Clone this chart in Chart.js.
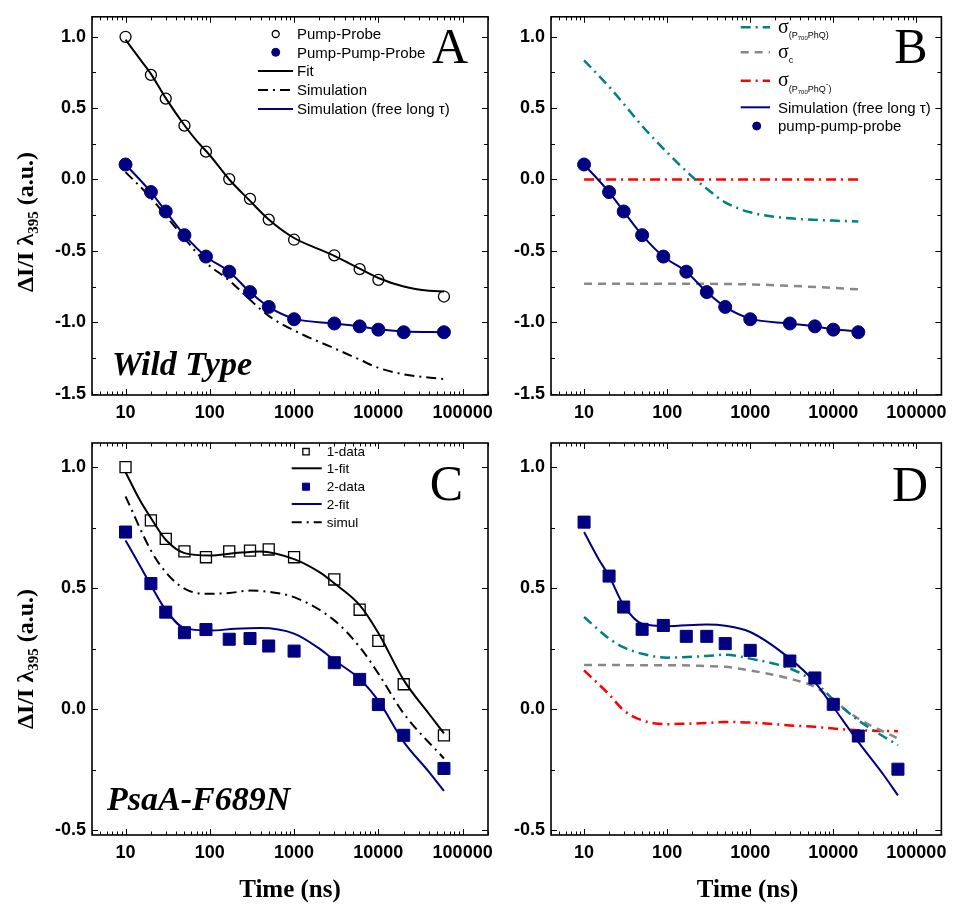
<!DOCTYPE html>
<html>
<head>
<meta charset="utf-8">
<script src="https://cdn.jsdelivr.net/npm/chart.js@4.4.0/dist/chart.umd.min.js"></script>
<style>
body{margin:0;background:#fff;width:954px;height:908px;position:relative;overflow:hidden}
canvas{position:absolute}
</style>
</head>
<body>
<canvas id="chartA" width="520" height="430" style="left:0;top:0"></canvas>
<canvas id="chartB" width="474" height="430" style="left:480px;top:0"></canvas>
<canvas id="chartC" width="520" height="488" style="left:0;top:420px"></canvas>
<canvas id="chartD" width="474" height="488" style="left:480px;top:420px"></canvas>
<script>
var SANS = '"Liberation Sans", Arial, sans-serif';
var SERIF = '"Liberation Serif", "Times New Roman", serif';
var NAVY = '#000080', TEAL = '#008080', GRAY = '#888888', RED = '#ff0000';

// tick labels
var xTicks = [10, 100, 1000, 10000, 100000];
var yTicksTop = [-1.5, -1.0, -0.5, 0.0, 0.5, 1.0];
var yTicksBottom = [-0.5, 0.0, 0.5, 1.0];

// panel A - wild type
var tPP = [10, 20, 30, 50, 90, 170, 300, 500, 1000, 3000, 6000, 10000, 60000];
var pumpProbe = [1.0, 0.733, 0.567, 0.377, 0.195, 0.003, -0.136, -0.281, -0.422, -0.531, -0.628, -0.703, -0.82];
var tPPP = [10, 20, 30, 50, 90, 170, 300, 500, 1000, 3000, 6000, 10000, 20000, 60000];
var pumpPumpProbe = [0.105, -0.088, -0.224, -0.39, -0.54, -0.646, -0.789, -0.893, -0.979, -1.009, -1.029, -1.052, -1.07, -1.07];
var tFitA = [10, 15, 20, 30, 50, 70, 100, 170, 300, 500, 1000, 2000, 3000, 6000, 10000, 20000, 40000, 60000];
var fitA = [0.98, 0.84, 0.74, 0.57, 0.38, 0.27, 0.17, 0.0, -0.15, -0.28, -0.41, -0.49, -0.535, -0.625, -0.69, -0.75, -0.78, -0.785];
var simA = [0.052, -0.129, -0.254, -0.412, -0.582, -0.707, -0.843, -0.956, -1.058, -1.183, -1.262, -1.32, -1.365, -1.398];
var simFreeA = [0.105, -0.088, -0.224, -0.39, -0.54, -0.646, -0.789, -0.893, -0.975, -1.009, -1.03, -1.05, -1.065, -1.07];

// panel B - components
var tB = [10, 20, 30, 50, 90, 170, 300, 500, 1000, 3000, 6000, 10000, 20000];
var pppB = [0.105, -0.088, -0.224, -0.39, -0.54, -0.646, -0.789, -0.893, -0.979, -1.009, -1.029, -1.052, -1.07];
var simFreeB = [0.105, -0.088, -0.224, -0.39, -0.54, -0.646, -0.789, -0.893, -0.975, -1.009, -1.03, -1.05, -1.065];
var tSigB = [10, 20, 30, 50, 100, 200, 300, 500, 1000, 3000, 10000, 20000];
var sigPhQB = [0.835, 0.65, 0.53, 0.375, 0.19, 0.02, -0.065, -0.16, -0.23, -0.272, -0.288, -0.295];
var tSigCB = [10, 100, 1000, 3000, 10000, 20000];
var sigCB = [-0.73, -0.73, -0.735, -0.745, -0.76, -0.77];
var tSigMB = [10, 20000];
var sigPhQmB = [0.0, 0.0];

// panel C - PsaA-F689N
var tC = [10, 20, 30, 50, 90, 170, 300, 500, 1000, 3000, 6000, 10000, 20000, 60000];
var data1C = [1.0, 0.78, 0.704, 0.652, 0.628, 0.652, 0.655, 0.66, 0.628, 0.536, 0.411, 0.282, 0.103, -0.108];
var data2C = [0.732, 0.519, 0.401, 0.316, 0.329, 0.289, 0.292, 0.261, 0.24, 0.192, 0.123, 0.019, -0.108, -0.245];
var tFitC = [10, 15, 20, 30, 50, 100, 200, 400, 1000, 2000, 3000, 6000, 10000, 20000, 40000, 60000];
var fit1C = [0.979, 0.86, 0.79, 0.70, 0.645, 0.635, 0.645, 0.652, 0.62, 0.566, 0.52, 0.43, 0.315, 0.12, -0.02, -0.10];
var fit2C = [0.697, 0.59, 0.512, 0.41, 0.335, 0.325, 0.332, 0.335, 0.312, 0.25, 0.202, 0.125, 0.035, -0.135, -0.26, -0.338];
var tSimC = [10, 20, 30, 50, 90, 170, 300, 500, 1000, 3000, 6000, 10000, 20000, 60000];
var simulC = [0.879, 0.656, 0.566, 0.498, 0.477, 0.48, 0.49, 0.485, 0.463, 0.367, 0.257, 0.147, -0.018, -0.204];

// panel D - components
var data2D = [0.773, 0.55, 0.422, 0.33, 0.346, 0.301, 0.301, 0.271, 0.243, 0.199, 0.129, 0.02, -0.111, -0.248];
var tFitD = [10, 15, 20, 30, 50, 100, 300, 500, 1000, 3000, 6000, 10000, 20000, 40000, 60000];
var fit2D = [0.732, 0.62, 0.55, 0.429, 0.353, 0.343, 0.35, 0.345, 0.319, 0.209, 0.112, 0.009, -0.135, -0.27, -0.356];
var tSigD = [10, 20, 30, 50, 100, 300, 500, 1000, 3000, 6000, 10000, 20000, 60000];
var tealD = [0.381, 0.292, 0.255, 0.229, 0.213, 0.22, 0.225, 0.209, 0.168, 0.112, 0.04, -0.046, -0.149];
var grayD = [0.183, 0.183, 0.182, 0.182, 0.182, 0.178, 0.175, 0.16, 0.126, 0.092, 0.037, -0.039, -0.121];
var redD = [0.16, 0.061, -0.005, -0.046, -0.062, -0.057, -0.053, -0.055, -0.067, -0.073, -0.08, -0.087, -0.091];

function pts(xs, ys) {
	return xs.map(function(x, i) { return {x: x, y: ys[i]}; });
}

function scatterSet(label, xs, ys, style, r, fill, stroke, lw) {
	return {label: label, data: pts(xs, ys), showLine: false, pointStyle: style, pointRadius: r,
		pointBackgroundColor: fill, pointBorderColor: stroke, pointBorderWidth: lw,
		backgroundColor: fill, borderColor: stroke, borderWidth: lw};
}

function lineSet(label, xs, ys, color, width, dash) {
	return {label: label, data: pts(xs, ys), borderColor: color, borderWidth: width, borderDash: dash || [],
		pointRadius: 0, cubicInterpolationMode: 'monotone', fill: false};
}

function marker(ctx, style, r, x, y, fill, stroke, lw) {
	ctx.beginPath();
	if (style === 'rect') {
		var s = r * Math.SQRT1_2;
		ctx.rect(x - s, y - s, 2 * s, 2 * s);
	} else {
		ctx.arc(x, y, r, 0, Math.PI * 2);
	}
	ctx.fillStyle = fill;
	ctx.fill();
	ctx.setLineDash([]);
	ctx.lineWidth = lw;
	ctx.strokeStyle = stroke;
	ctx.stroke();
}

function drawRich(ctx, segs, x, y) {
	segs.forEach(function(s) {
		ctx.font = s.f;
		ctx.fillText(s.t, x, y + (s.dy || 0));
		x += ctx.measureText(s.t).width;
	});
	return x;
}

function richWidth(ctx, segs) {
	var w = 0;
	segs.forEach(function(s) { ctx.font = s.f; w += ctx.measureText(s.t).width; });
	return w;
}

function hline(ctx, x1, y1, x2, y2) {
	ctx.beginPath();
	ctx.moveTo(x1, y1);
	ctx.lineTo(x2, y2);
	ctx.stroke();
}

// frame, inner ticks, legend and texts
var decor = {
	id: 'decor',
	afterDraw: function(chart, args, o) {
		var ctx = chart.ctx, a = chart.chartArea, xs = chart.scales.x, ys = chart.scales.y;
		ctx.save();
		ctx.strokeStyle = '#000';
		ctx.setLineDash([]);
		ctx.lineWidth = 1;
		for (var d = 0; d <= 5; d++) {
			for (var m = 1; m <= 9; m++) {
				var v = m * Math.pow(10, d);
				if (v < xs.min || v > xs.max) continue;
				var px = Math.round(xs.getPixelForValue(v)) + 0.5, len = m === 1 ? 6 : 3.5;
				hline(ctx, px, a.bottom, px, a.bottom - len);
				hline(ctx, px, a.top, px, a.top + len);
			}
		}
		for (var k = Math.ceil(ys.min * 4); k <= Math.floor(ys.max * 4); k++) {
			var py = Math.round(ys.getPixelForValue(k / 4)) + 0.5, ln = k % 2 === 0 ? 6 : 4;
			hline(ctx, a.left, py, a.left + ln, py);
			hline(ctx, a.right, py, a.right - ln, py);
		}
		ctx.lineWidth = 1.6;
		ctx.strokeRect(a.left, a.top, a.right - a.left, a.bottom - a.top);

		ctx.fillStyle = '#000';
		ctx.textBaseline = 'alphabetic';
		// panel letter
		ctx.font = '50px ' + SERIF;
		ctx.textAlign = 'center';
		ctx.fillText(o.letter[0], o.letter[1], o.letter[2]);
		// sample name
		if (o.name) {
			ctx.font = 'italic bold 34px ' + SERIF;
			ctx.textAlign = 'left';
			ctx.fillText(o.name[0], o.name[1], o.name[2]);
		}
		// x title
		if (o.xTitle) {
			ctx.font = 'bold 25px ' + SERIF;
			ctx.textAlign = 'center';
			ctx.fillText('Time (ns)', o.xTitle[0], o.xTitle[1]);
		}
		// y title
		if (o.yTitle) {
			var segs = [
				{t: '\u0394I/I \u03bb', f: 'bold 24px ' + SERIF},
				{t: '395', f: 'bold 15px ' + SERIF, dy: 5},
				{t: ' (a.u.)', f: 'bold 24px ' + SERIF}
			];
			ctx.textAlign = 'left';
			ctx.translate(o.yTitle[0], o.yTitle[1]);
			ctx.rotate(-Math.PI / 2);
			drawRich(ctx, segs, -richWidth(ctx, segs) / 2, 0);
			ctx.setTransform(1, 0, 0, 1, 0, 0);
		}
		// legend
		if (o.legend) {
			var L = o.legend;
			ctx.textAlign = 'left';
			L.items.forEach(function(it) {
				var ds = chart.data.datasets[it.ds];
				if (ds.showLine === false) {
					marker(ctx, ds.pointStyle, it.r, L.mx, it.y, ds.pointBackgroundColor, ds.pointBorderColor, ds.pointBorderWidth);
				} else {
					ctx.setLineDash(ds.borderDash || []);
					ctx.strokeStyle = ds.borderColor;
					ctx.lineWidth = ds.borderWidth;
					hline(ctx, L.x1, it.y, L.x2, it.y);
					ctx.setLineDash([]);
				}
				ctx.fillStyle = '#000';
				if (it.rich) {
					drawRich(ctx, it.rich, L.tx, it.y);
				} else {
					ctx.font = L.size + 'px ' + SANS;
					ctx.fillText(ds.label, L.tx, it.y + L.size * 0.35);
				}
			});
		}
		ctx.restore();
	}
};

Chart.defaults.color = '#000';

function makeOptions(cfg) {
	return {
		responsive: false,
		animation: false,
		layout: {padding: cfg.pad},
		plugins: {legend: {display: false}, tooltip: {enabled: false}, decor: cfg.decor},
		scales: {
			x: {
				type: 'logarithmic', min: 4, max: 200000,
				grid: {display: false, drawTicks: false}, border: {display: false},
				ticks: {autoSkip: false, maxRotation: 0, padding: 7, color: '#000',
					font: {family: SANS, size: 18, weight: 'bold'},
					callback: function(v) { return String(v); }},
				afterBuildTicks: function(s) { s.ticks = xTicks.map(function(v) { return {value: v}; }); },
				afterFit: function(s) { s.height = cfg.xh; }
			},
			y: {
				type: 'linear', min: cfg.ymin, max: cfg.ymax,
				grid: {display: false, drawTicks: false}, border: {display: false},
				ticks: {padding: 6, color: '#000', font: {family: SANS, size: 18, weight: 'bold'},
					callback: function(v) { return v.toFixed(1); }},
				afterBuildTicks: function(s) { s.ticks = cfg.yticks.map(function(v) { return {value: v}; }); },
				afterFit: function(s) { s.width = cfg.yw; }
			}
		}
	};
}

function sigmaSegs(sub, minus) {
	var s = [{t: '\u03c3', f: '20px ' + SERIF, dy: 5.5}];
	if (sub === 'c') {
		s.push({t: 'c', f: '9px ' + SANS, dy: 11});
	} else {
		s.push({t: '(P', f: '9px ' + SANS, dy: 11});
		s.push({t: '700', f: '6px ' + SANS, dy: 13});
		s.push({t: 'PhQ', f: '9px ' + SANS, dy: 11});
		if (minus) s.push({t: '-', f: '8px ' + SANS, dy: 5});
		s.push({t: ')', f: '9px ' + SANS, dy: 11});
	}
	return s;
}

new Chart(document.getElementById('chartA'), {
	type: 'line',
	data: {datasets: [
		scatterSet('Pump-Probe', tPP, pumpProbe, 'circle', 5.5, 'rgba(0,0,0,0)', '#000', 1.3),
		scatterSet('Pump-Pump-Probe', tPPP, pumpPumpProbe, 'circle', 6.5, NAVY, NAVY, 1),
		lineSet('Fit', tFitA, fitA, '#000', 2),
		lineSet('Simulation', tPPP, simA, '#000', 2, [10, 5, 2, 5]),
		lineSet('Simulation (free long \u03c4)', tPPP, simFreeA, NAVY, 2)
	]},
	options: makeOptions({
		pad: {left: 0, right: 32, top: 5, bottom: 0}, xh: 35, yw: 92,
		ymin: -1.51, ymax: 1.14, yticks: yTicksTop,
		decor: {
			letter: ['A', 450, 63], name: ['Wild Type', 112, 375], yTitle: [33, 222],
			legend: {mx: 275.7, x1: 258, x2: 293, tx: 297, size: 15, items: [
				{ds: 0, y: 34, r: 3.5}, {ds: 1, y: 52.3, r: 4}, {ds: 2, y: 71},
				{ds: 3, y: 90}, {ds: 4, y: 109}
			]}
		}
	}),
	plugins: [decor]
});

new Chart(document.getElementById('chartB'), {
	type: 'line',
	data: {datasets: [
		scatterSet('pump-pump-probe', tB, pppB, 'circle', 6.5, NAVY, NAVY, 1),
		lineSet('Simulation (free long \u03c4)', tB, simFreeB, NAVY, 2),
		lineSet('\u03c3(P700PhQ)', tSigB, sigPhQB, TEAL, 2.5, [10, 5, 2, 5]),
		lineSet('\u03c3c', tSigCB, sigCB, GRAY, 2.5, [8, 6]),
		lineSet('\u03c3(P700PhQ-)', tSigMB, sigPhQmB, RED, 2.5, [10, 5, 2, 5])
	]},
	options: makeOptions({
		pad: {left: 0, right: 9, top: 5, bottom: 0}, xh: 35, yw: 71,
		ymin: -1.51, ymax: 1.14, yticks: yTicksTop,
		decor: {
			letter: ['B', 431, 63],
			legend: {mx: 276.7, x1: 260.7, x2: 290, tx: 298, size: 15, items: [
				{ds: 2, y: 27.3, rich: sigmaSegs('p', false)},
				{ds: 3, y: 52.3, rich: sigmaSegs('c', false)},
				{ds: 4, y: 80.7, rich: sigmaSegs('p', true)},
				{ds: 1, y: 107.3}, {ds: 0, y: 126, r: 4}
			]}
		}
	}),
	plugins: [decor]
});

new Chart(document.getElementById('chartC'), {
	type: 'line',
	data: {datasets: [
		scatterSet('1-data', tC, data1C, 'rect', 7.8, 'rgba(0,0,0,0)', '#000', 1.3),
		scatterSet('2-data', tC, data2C, 'rect', 8.5, NAVY, NAVY, 1),
		lineSet('1-fit', tFitC, fit1C, '#000', 2),
		lineSet('2-fit', tFitC, fit2C, NAVY, 2),
		lineSet('simul', tSimC, simulC, '#000', 2, [10, 5, 2, 5])
	]},
	options: makeOptions({
		pad: {left: 0, right: 32, top: 23, bottom: 0}, xh: 73, yw: 92,
		ymin: -0.52, ymax: 1.1, yticks: yTicksBottom,
		decor: {
			letter: ['C', 446.5, 80], name: ['PsaA-F689N', 107, 390], yTitle: [33, 239],
			xTitle: [290, 477],
			legend: {mx: 306, x1: 291.7, x2: 321.7, tx: 326.7, size: 13.5, items: [
				{ds: 0, y: 31.7, r: 4.5}, {ds: 2, y: 48.3}, {ds: 1, y: 66.7, r: 5},
				{ds: 3, y: 84}, {ds: 4, y: 102.3}
			]}
		}
	}),
	plugins: [decor]
});

new Chart(document.getElementById('chartD'), {
	type: 'line',
	data: {datasets: [
		scatterSet('2-data', tC, data2D, 'rect', 8.5, NAVY, NAVY, 1),
		lineSet('2-fit', tFitD, fit2D, NAVY, 2),
		lineSet('\u03c3(P700PhQ)', tSigD, tealD, TEAL, 2.5, [10, 5, 2, 5]),
		lineSet('\u03c3c', tSigD, grayD, GRAY, 2.5, [8, 6]),
		lineSet('\u03c3(P700PhQ-)', tSigD, redD, RED, 2.5, [10, 5, 2, 5])
	]},
	options: makeOptions({
		pad: {left: 0, right: 9, top: 23, bottom: 0}, xh: 73, yw: 71,
		ymin: -0.52, ymax: 1.1, yticks: yTicksBottom,
		decor: {letter: ['D', 430, 81], xTitle: [267.5, 477]}
	}),
	plugins: [decor]
});
</script>
</body>
</html>
